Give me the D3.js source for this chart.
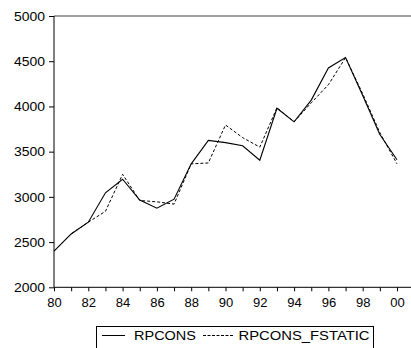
<!DOCTYPE html>
<html>
<head>
<meta charset="utf-8">
<script src="https://cdn.jsdelivr.net/npm/d3@7/dist/d3.min.js"></script>
<style>
  html, body { margin: 0; padding: 0; background: #fff; }
  svg { display: block; font-family: "Liberation Sans", Arial, sans-serif; }
</style>
</head>
<body>
<svg id="chart" width="411" height="348"></svg>
<script>
// Years 1980-2000
const years = d3.range(1980, 2001);
// Actual real per-capita consumption
const rpcons = [2400, 2590, 2720, 3045, 3195, 2965, 2875, 2975, 3365, 3625, 3600,
                3565, 3405, 3980, 3830, 4070, 4425, 4540, 4120, 3690, 3410];
// Static forecast
const rpconsFstatic = [2400, 2590, 2720, 2840, 3250, 2960, 2945, 2920, 3365, 3375, 3795,
                       3655, 3550, 3985, 3830, 4040, 4240, 4540, 4140, 3710, 3365];
const yTicks = [2000, 2500, 3000, 3500, 4000, 4500, 5000];
const seriesNames = ["RPCONS", "RPCONS_FSTATIC"];

const svg = d3.select("#chart");
const plotLeft = 54, plotRight = 411, plotTop = 16, plotBottom = 287.3;

const x = d3.scaleLinear().domain([1980, 2000]).range([plotLeft, 397]);
const y = d3.scaleLinear().domain([2000, 5000]).range([plotBottom, plotTop]);

// top border
svg.append("line")
  .attr("x1", plotLeft).attr("x2", plotRight)
  .attr("y1", plotTop).attr("y2", plotTop)
  .attr("stroke", "#808080").attr("stroke-width", 1.5);

// y axis
const yAxis = svg.append("g")
  .attr("transform", `translate(${plotLeft},0)`)
  .call(d3.axisLeft(y).tickValues(yTicks).tickSize(5).tickPadding(4).tickFormat(d3.format("d")));
yAxis.select(".domain").attr("d", `M0,${plotTop}V${plotBottom}`).attr("stroke", "#000");
yAxis.selectAll("text").attr("font-size", 13).attr("fill", "#000")
  .attr("font-family", "Liberation Sans, Arial, sans-serif")
  .attr("textLength", 31).attr("lengthAdjust", "spacingAndGlyphs");

// x axis: a tick every year, a label every other year
const xAxis = svg.append("g")
  .attr("transform", `translate(0,${plotBottom})`)
  .call(d3.axisBottom(x).tickValues(years).tickSize(4).tickPadding(6)
    .tickFormat(d => (d % 2 === 0) ? String(d).slice(2) : ""));
xAxis.select(".domain").attr("d", `M${plotLeft},0H${plotRight}`).attr("stroke", "#000");
xAxis.selectAll("text").attr("font-size", 13).attr("fill", "#000")
  .attr("font-family", "Liberation Sans, Arial, sans-serif");

const line = d3.line().x((d, i) => x(years[i])).y(d => y(d));

svg.append("path").datum(rpconsFstatic)
  .attr("d", line).attr("fill", "none")
  .attr("stroke", "#000").attr("stroke-width", 1)
  .attr("stroke-dasharray", "3,2");

svg.append("path").datum(rpcons)
  .attr("d", line).attr("fill", "none")
  .attr("stroke", "#000").attr("stroke-width", 1.1);

// legend
const lg = svg.append("g");
lg.append("rect").attr("x", 96.5).attr("y", 326.5).attr("width", 277).attr("height", 30)
  .attr("fill", "#fff").attr("stroke", "#000").attr("stroke-width", 1);
lg.append("line").attr("x1", 102).attr("x2", 125).attr("y1", 335.5).attr("y2", 335.5)
  .attr("stroke", "#000").attr("stroke-width", 1);
lg.append("text").attr("x", 134).attr("y", 339.5).attr("font-size", 13)
  .attr("textLength", 62).attr("lengthAdjust", "spacingAndGlyphs").text(seriesNames[0]);
lg.append("line").attr("x1", 203).attr("x2", 233).attr("y1", 335.5).attr("y2", 335.5)
  .attr("stroke", "#000").attr("stroke-width", 1).attr("stroke-dasharray", "3,1.5");
lg.append("text").attr("x", 238.5).attr("y", 339.5).attr("font-size", 13)
  .attr("textLength", 131).attr("lengthAdjust", "spacingAndGlyphs").text(seriesNames[1]);
</script>
</body>
</html>
